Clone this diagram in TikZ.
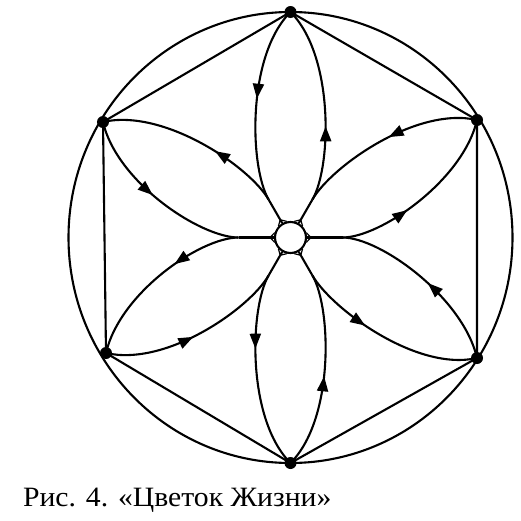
\documentclass[tikz,border=0pt]{standalone}
\usepackage{fontspec}
\usetikzlibrary{arrows.meta,decorations.markings}
\newfontfamily\capfont[FakeStretch=1.06]{Liberation Serif}
\newcommand{\flowtip}[0]{Triangle[length=15pt,width=11pt]}

\begin{document}
\begin{tikzpicture}[x=1pt, y=1pt, line width=2.1pt]
  \tikzset{dot/.style={circle,fill,inner sep=0pt,minimum size=12pt},
    hubnode/.style={circle,draw,inner sep=0pt,minimum size=31pt},
    flare/.style={line width=1.2pt},
    outflow/.style={postaction={decorate},decoration={markings,
      mark=at position 0.38 with {\arrow{\flowtip}}}},
    inflow/.style={postaction={decorate},decoration={markings,
      mark=at position 0.52 with {\arrowreversed{\flowtip}}}}}
  \useasboundingbox (-290.5,-282.5) rectangle (230.5,237.5);
  \draw (0,0) ellipse (222 and 225.5);
  \node[dot] (top) at (0,225.5) {};
  \node[dot] (ur) at (186.5,117.5) {};
  \node[dot] (lr) at (186.5,-120.5) {};
  \node[dot] (bot) at (0,-225.5) {};
  \node[dot] (ll) at (-184.5,-115.5) {};
  \node[dot] (ul) at (-187.5,115.5) {};
  \draw (top.center) -- (ur.center) -- (lr.center) -- (bot.center)
    -- (ll.center) -- (ul.center) -- cycle;
  \node[hubnode] (hub) at (0,0) {};
  % junctions round the hub
  \foreach \p/\r [evaluate=\p as \pa using \p-17, evaluate=\p as \pb using \p+17]
      in {0/52,60/44,120/44,180/52,240/44,300/44} {
    \coordinate (j\p) at (\p:\r);
    \draw (hub.\p) -- (j\p);
    \draw[flare] (hub.\pa) -- (\p:20.5) -- (hub.\pb);
  }
  % petals: out along one edge, back along the other
  \foreach \v/\a/\jo/\jb [evaluate=\a as \ino using \a+225,
      evaluate=\a as \inb using \a+135]
      in {top/90/60/120, ur/32/0/60, lr/-32/300/0, bot/-90/240/300,
          ll/-148/180/240, ul/148/120/180} {
    \draw[outflow] (j\jo) to[out=\jo, in=\ino, out distance=38pt, in distance=62pt] (\v.center);
    \draw[inflow] (j\jb) to[out=\jb, in=\inb, out distance=38pt, in distance=62pt] (\v.center);
  }
  \node[anchor=base west, inner sep=0pt, font=\capfont\fontsize{28}{30}\selectfont]
    (caption) at (-268.5,-269.2) {Рис. 4. «Цветок Жизни»};
\end{tikzpicture}
\end{document}
